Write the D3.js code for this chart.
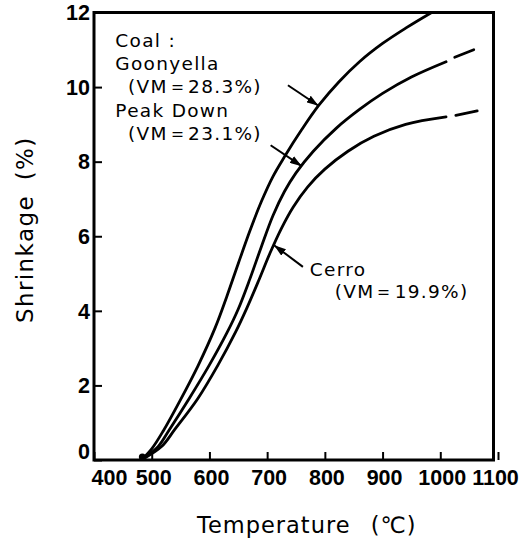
<!DOCTYPE html>
<html>
<head>
<meta charset="utf-8">
<script src="https://cdn.jsdelivr.net/npm/d3@7"></script>
<style>
  html, body { margin: 0; padding: 0; background: #fff; }
  svg { display: block; }
</style>
</head>
<body>
<div id="chart"></div>
<script>
// ---- Data (temperature °C, shrinkage %) ----
const xTicks = [400, 500, 600, 700, 800, 900, 1000, 1100];
const yTicks = [0, 2, 4, 6, 8, 10, 12];

const goonyella = [[482,0.0],[500,0.3],[520,0.78],[550,1.62],[580,2.52],[610,3.55],[630,4.38],[650,5.27],[670,6.14],[690,6.93],[710,7.6],[730,8.13],[760,8.86],[790,9.52],[825,10.15],[860,10.68],[900,11.17],[940,11.58],[985,12.0]];
const peakDown = [[482,0.0],[511,0.36],[530,0.8],[565,1.65],[600,2.55],[630,3.4],[650,4.05],[670,4.85],[690,5.72],[710,6.55],[730,7.2],[750,7.7],[780,8.28],[820,8.9],[860,9.4],[900,9.83],[950,10.27],[1010,10.68]];
const peakDownExt = [[1025,10.8],[1058,11.0]];
const cerro = [[482,0.0],[517,0.36],[540,0.82],[580,1.65],[615,2.55],[645,3.42],[665,4.08],[685,4.8],[705,5.55],[725,6.22],[745,6.78],[770,7.32],[800,7.8],[840,8.28],[885,8.68],[940,9.0],[1010,9.2]];
const cerroExt = [[1027,9.24],[1064,9.36]];

// annotation text & arrows (in data coordinates)
const labelLines = [
  {t: 437, v: 11.07, text: "Coal :"},
  {t: 437, v: 10.45, text: "Goonyella"},
  {t: 459, v: 9.83, text: "(VM＝28.3%)"},
  {t: 437, v: 9.20, text: "Peak Down"},
  {t: 459, v: 8.57, text: "(VM＝23.1%)"},
  {t: 774, v: 4.93, text: "Cerro"},
  {t: 817, v: 4.34, text: "(VM＝19.9%)"}
];
const arrows = [
  {from: [736, 10.05], to: [789, 9.5]},
  {from: [706, 8.44], to: [760, 7.88]},
  {from: [762, 5.18], to: [712, 5.76]}
];

// ---- Chart ----
const W = 531, H = 543;
const svg = d3.select("#chart").append("svg").attr("width", W).attr("height", H);

const x = d3.scaleLinear().domain([400, 1100]).range([94, 498]);
const y = d3.scaleLinear().domain([0, 12]).range([460, 12.5]);

const pLeft = x(400), pRight = x(1100) - 4.5, pTop = y(12), pBottom = y(0);

const defs = svg.append("defs");
defs.append("clipPath").attr("id", "clip")
  .append("rect").attr("x", pLeft).attr("y", pTop).attr("width", pRight - pLeft).attr("height", pBottom - pTop);

const marker = defs.append("marker")
  .attr("id", "ah").attr("viewBox", "0 0 12 8")
  .attr("refX", 12).attr("refY", 4)
  .attr("markerWidth", 12).attr("markerHeight", 8)
  .attr("markerUnits", "userSpaceOnUse")
  .attr("orient", "auto");
marker.append("path").attr("d", "M0,0 L12,4 L0,8 Z").attr("fill", "#000");

// axes
const tickFont = "'Liberation Sans', Arial, sans-serif";
const yAxis = svg.append("g").attr("transform", `translate(${pLeft},0)`)
  .call(d3.axisLeft(y).tickValues(yTicks).tickSizeInner(-8).tickSizeOuter(0).tickPadding(4).tickFormat(d3.format("d")));
yAxis.select(".domain").remove();
yAxis.selectAll("line").attr("stroke", "#000").attr("stroke-width", 2);
yAxis.selectAll("text").attr("font-family", tickFont).attr("font-weight", "bold")
  .attr("font-size", 21.5).attr("fill", "#000")
  .attr("dy", d => d === 0 ? "-0.05em" : "0.34em");

const xAxis = svg.append("g").attr("transform", `translate(0,${pBottom})`)
  .call(d3.axisBottom(x).tickValues(xTicks).tickSizeInner(-8).tickSizeOuter(0).tickPadding(10).tickFormat(d3.format("d")));
xAxis.select(".domain").remove();
xAxis.selectAll("line").attr("stroke", "#000").attr("stroke-width", 2);
xAxis.selectAll("text").attr("font-family", tickFont).attr("font-weight", "bold")
  .attr("font-size", 21.5).attr("fill", "#000")
  .attr("dx", d => d === 400 ? 15 : (d === 1100 ? -3 : 1.5));

// frame
svg.append("rect").attr("x", pLeft).attr("y", pTop).attr("width", pRight - pLeft).attr("height", pBottom - pTop)
  .attr("fill", "none").attr("stroke", "#000").attr("stroke-width", 3);

// curves
const line = d3.line().x(d => x(d[0])).y(d => y(d[1])).curve(d3.curveCatmullRom.alpha(0.5));
const g = svg.append("g").attr("clip-path", "url(#clip)");
[goonyella, peakDown, cerro, peakDownExt, cerroExt].forEach(s => {
  g.append("path").datum(s).attr("d", line)
    .attr("fill", "none").attr("stroke", "#000").attr("stroke-width", 2.8)
    .attr("stroke-linecap", "round");
});
// starting point blob
svg.append("circle").attr("cx", x(goonyella[0][0]) + 1).attr("cy", y(goonyella[0][1]) - 3).attr("r", 3.5).attr("fill", "#000");

// annotations
const annFont = "'DejaVu Sans', sans-serif";
svg.append("g").selectAll("text").data(labelLines).join("text")
  .attr("x", d => x(d.t)).attr("y", d => y(d.v))
  .attr("font-family", annFont).attr("font-size", 18.5).attr("letter-spacing", 1.3)
  .attr("fill", "#000").text(d => d.text);

svg.append("g").selectAll("line").data(arrows).join("line")
  .attr("x1", d => x(d.from[0])).attr("y1", d => y(d.from[1]))
  .attr("x2", d => x(d.to[0])).attr("y2", d => y(d.to[1]))
  .attr("stroke", "#000").attr("stroke-width", 2).attr("marker-end", "url(#ah)");

// axis titles
const titleFont = "'DejaVu Sans', sans-serif";
const xt = svg.append("text").attr("x", 197).attr("y", 533)
  .attr("font-family", titleFont).attr("font-size", 22.5).attr("letter-spacing", 1)
  .attr("fill", "#000").text("Temperature");
xt.append("tspan").attr("dx", 12).text(" (℃)");

const yt = svg.append("text").attr("transform", "translate(33,323) rotate(-90)")
  .attr("font-family", titleFont).attr("font-size", 23).attr("letter-spacing", 1.4)
  .attr("fill", "#000").text("Shrinkage");
yt.append("tspan").attr("dx", 6).text(" (%)");
</script>
</body>
</html>
